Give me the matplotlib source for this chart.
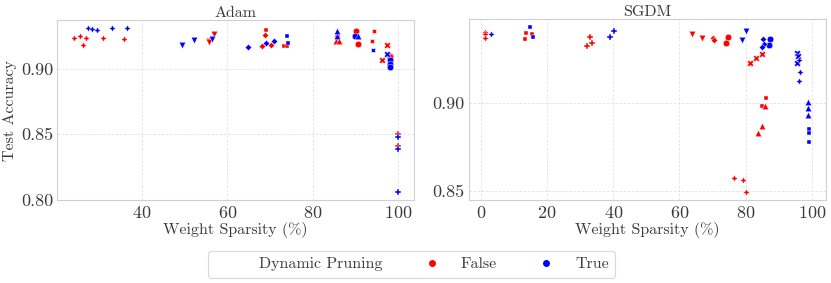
import matplotlib
matplotlib.use("Agg")
import matplotlib.pyplot as plt
from matplotlib.lines import Line2D
from matplotlib.ticker import MultipleLocator, FormatStrFormatter

plt.rcParams['font.family'] = ['cmr10', 'DejaVu Serif']
plt.rcParams['axes.formatter.use_mathtext'] = True
plt.rcParams['mathtext.fontset'] = 'cm'

# marker shapes used for the style groups (seaborn default order)
MARKERS = {
    'circle': 'o', 'X': 'X', 'square': (4, 0, 45), 'P': 'P', 'diamond': (4, 0, 0),
    'star': (4, 1, 0), 'tri_up': '^', 'xstar': (4, 1, 45), 'tri_down': 'v',
}
COLORS = {False: 'red', True: 'blue'}

# ---- Adam ----
adam_sparsity = [24.0, 25.6, 27.0, 26.1, 31.0, 35.85,
                 55.6, 55.7, 56.9,
                 68.9, 68.1, 70.2,
                 69.1, 73.35, 73.9,
                 85.6, 85.5, 86.1,
                 90.1, 90.6, 97.95, 98.0,
                 94.3, 93.8,
                 97.3, 96.25,
                 99.85, 99.85,
                 27.5, 28.3, 29.4, 33.1, 36.6,
                 49.5, 52.1, 56.4,
                 64.75, 69.0, 71.0,
                 73.9, 74.1,
                 85.6, 85.7, 90.6,
                 89.8, 97.95, 97.95, 97.95,
                 94.05,
                 97.3,
                 99.85, 99.85, 99.85]
adam_acc = [0.9235, 0.9252, 0.9235, 0.9182, 0.9235, 0.9223,
            0.9214, 0.9202, 0.9262,
            0.9258, 0.9171, 0.9177,
            0.9295, 0.9173, 0.9173,
            0.9265, 0.9209, 0.9214,
            0.9290, 0.9185, 0.9095, 0.9088,
            0.9285, 0.9209,
            0.9184, 0.9068,
            0.8502, 0.8411,
            0.9310, 0.9303, 0.9295, 0.9310, 0.9310,
            0.9184, 0.9222, 0.9227,
            0.9169, 0.9197, 0.9214,
            0.9247, 0.9197,
            0.9252, 0.9290, 0.9247,
            0.9252, 0.9063, 0.9033, 0.9013,
            0.9139,
            0.9114,
            0.8477, 0.8389, 0.8058]
adam_dynamic = [False] * 28 + [True] * 25
adam_style = (['star'] * 6 + ['tri_down'] * 3 + ['diamond'] * 3 + ['square'] * 3
              + ['tri_up'] * 3 + ['circle'] * 4 + ['xstar'] * 2 + ['X'] * 2 + ['P'] * 2
              + ['star'] * 5 + ['tri_down'] * 3 + ['diamond'] * 3 + ['square'] * 2
              + ['tri_up'] * 3 + ['circle'] * 4 + ['xstar'] + ['X'] + ['P'] * 3)

# ---- SGDM ----
sgdm_sparsity = [1.35, 1.35, 1.35, 76.6, 79.3, 80.2,
                 13.65, 13.35, 15.35, 86.0, 84.8,
                 32.9, 33.7, 32.2,
                 63.7, 66.9,
                 70.2, 70.5,
                 74.6, 73.9,
                 81.4, 83.1, 84.9,
                 85.7, 84.8, 83.8,
                 3.05, 96.2, 96.4, 96.1,
                 14.95, 15.85, 99.2, 99.2, 99.2,
                 38.9, 40.1,
                 80.2, 78.8,
                 85.2, 85.6, 85.0,
                 87.4, 87.0,
                 95.5, 95.8, 95.5,
                 98.7, 98.7, 98.7]
sgdm_acc = [0.9403, 0.9389, 0.9366, 0.8570, 0.8561, 0.8491,
            0.9394, 0.9362, 0.9389, 0.9028, 0.8981,
            0.9375, 0.9341, 0.9324,
            0.9390, 0.9366,
            0.9366, 0.9356,
            0.9375, 0.9338,
            0.9227, 0.9252, 0.9275,
            0.8981, 0.8868, 0.8826,
            0.9389, 0.9245, 0.9176, 0.9125,
            0.9428, 0.9375, 0.8851, 0.8826, 0.8777,
            0.9375, 0.9409,
            0.9407, 0.9356,
            0.9362, 0.9335, 0.9318,
            0.9365, 0.9327,
            0.9283, 0.9266, 0.9228,
            0.9006, 0.8968, 0.8930]
sgdm_dynamic = [False] * 26 + [True] * 24
sgdm_style = (['star'] * 6 + ['square'] * 5 + ['P'] * 3 + ['tri_down'] * 2
              + ['diamond'] * 2 + ['circle'] * 2 + ['X'] * 3 + ['tri_up'] * 3
              + ['star'] * 4 + ['square'] * 5 + ['P'] * 2 + ['tri_down'] * 2
              + ['diamond'] * 3 + ['circle'] * 2 + ['X'] * 3 + ['tri_up'] * 3)

TEXT = '#3a3a3a'
GRID = '#e0e0e0'


def draw(ax, sparsity, acc, dynamic, style, title):
    for dyn in (False, True):
        for name, mk in MARKERS.items():
            xs = [s for s, d, st in zip(sparsity, dynamic, style) if d == dyn and st == name]
            ys = [a for a, d, st in zip(acc, dynamic, style) if d == dyn and st == name]
            if xs:
                ax.scatter(xs, ys, s=22, marker=mk, color=COLORS[dyn],
                           edgecolor='white', linewidth=0.3, zorder=3)
    ax.set_title(title, fontsize=11.5, color=TEXT, pad=2)
    ax.set_xlabel('Weight Sparsity (%)', fontsize=11.5, color=TEXT, labelpad=1)
    ax.grid(True, color=GRID, linestyle=(0, (3, 2)), linewidth=0.6)
    ax.set_axisbelow(True)
    for sp in ax.spines.values():
        sp.set_color('#d0d0d0')
        sp.set_linewidth(0.8)
    ax.tick_params(length=0, labelsize=13, colors=TEXT, pad=3)
    ax.xaxis.set_major_locator(MultipleLocator(20))
    ax.yaxis.set_major_locator(MultipleLocator(0.05))
    ax.yaxis.set_major_formatter(FormatStrFormatter('%.2f'))


fig = plt.figure(figsize=(8.31, 2.83), dpi=100)
ax1 = fig.add_axes([0.0690, 0.292, 0.4290, 0.638])
ax2 = fig.add_axes([0.5644, 0.292, 0.4290, 0.640])

draw(ax1, adam_sparsity, adam_acc, adam_dynamic, adam_style, 'Adam')
draw(ax2, sgdm_sparsity, sgdm_acc, sgdm_dynamic, sgdm_style, 'SGDM')
ax1.set_ylabel('Test Accuracy', fontsize=11.5, color=TEXT, labelpad=3)

handles = [Line2D([], [], linestyle='none'),
           Line2D([], [], marker='o', linestyle='none', color='red', markersize=4),
           Line2D([], [], marker='o', linestyle='none', color='blue', markersize=4)]
leg = fig.legend(handles, ['Dynamic Pruning', 'False', 'True'], loc='center',
                 bbox_to_anchor=(0.495, 0.067), ncol=3, fontsize=11.5,
                 columnspacing=2.1, handletextpad=0.8, frameon=True, fancybox=True)
leg.get_frame().set_edgecolor('#d0d0d0')
leg.get_frame().set_linewidth(0.8)
for t in leg.get_texts():
    t.set_color(TEXT)

fig.savefig('out.png', dpi=100)
